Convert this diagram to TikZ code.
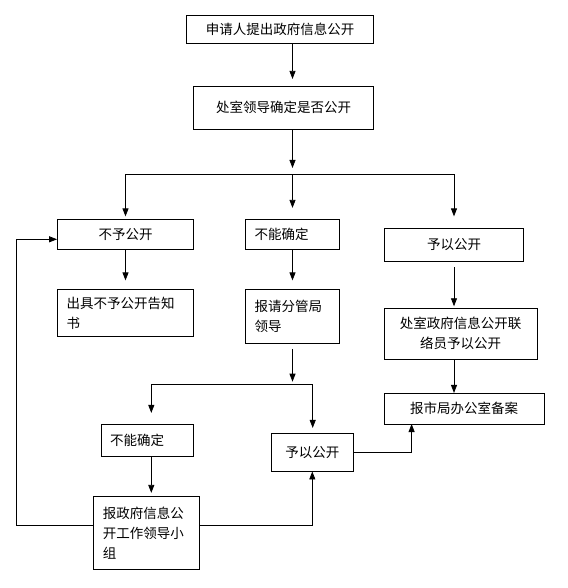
\documentclass[tikz,border=0pt]{standalone}
\usepackage{fontspec}
\setmainfont{Noto Sans CJK SC}
\usetikzlibrary{arrows.meta,positioning}

\begin{document}
\begin{tikzpicture}
[x=1pt, y=-1pt, font=\fontsize{13.5}{20}\selectfont,
>={Triangle[length=8pt,width=6pt]},
% STYLES
% The flowbox style is used to draw the steps of the procedure
flowbox/.style={rectangle, draw, line width=0.8pt, inner sep=0pt, align=center},
% The leftbox style is used for steps whose text starts at the left
leftbox/.style={flowbox, align=left, inner xsep=9pt},
% The link style is used to draw the connectors
link/.style={line width=0.8pt}]

\useasboundingbox (0,0) rectangle (567,588);

% Draw steps
\node [flowbox, minimum width=187pt, minimum height=28pt] (apply) at (280,29.3) {申请人提出政府信息公开};
\node [flowbox, minimum width=180pt, minimum height=42.7pt] (lead) at (283.5,107.7) {处室领导确定是否公开};
\node [flowbox, minimum width=136pt, minimum height=30pt] (refuse) at (125.5,234.3) {不予公开};
\node [leftbox, text width=76pt, minimum height=30pt] (unsure) at (292.5,234.3) {不能确定};
\node [flowbox, minimum width=139.6pt, minimum height=33pt] (grant) at (454,244.8) {予以公开};
\node [leftbox, text width=118pt, minimum height=46.3pt, below=39.7pt of refuse] (notice) {出具不予公开告知\\书};
\node [leftbox, text width=76pt, minimum height=53.7pt, below=39.7pt of unsure] (report) {报请分管局\\领导};
\node [flowbox, minimum width=153.5pt, minimum height=51pt] (liaison) at (460.7,333.8) {处室政府信息公开联\\络员予以公开};
\node [flowbox, minimum width=160.4pt, minimum height=30.7pt] (record) at (464.2,408.7) {报市局办公室备案};
\node [leftbox, text width=74.5pt, minimum height=31.7pt] (unsure2) at (147.3,440.2) {不能确定};
\node [flowbox, minimum width=82.5pt, minimum height=37.7pt] (grant2) at (312.3,452.2) {予以公开};
\node [leftbox, text width=87.5pt, minimum height=73pt] (group) at (146.5,532.8) {报政府信息公\\开工作领导小\\组};

% Points where the connectors split or turn
\coordinate (forkA) at (292.5,174);
\coordinate (forkL) at (151.3,384.3);
\coordinate (forkR) at (312.7,384.3);
\coordinate (loopy) at (0,525);
\coordinate (loopx) at (16.4,239.3);
\coordinate (recin) at (411.6,424);

% Draw the links between steps
\draw[link,->,shorten >=7pt] (apply.south -| unsure) -- (lead.north -| unsure);
\draw[link,->,shorten >=6pt] (lead.south -| unsure) -- (forkA);
\draw[link] (forkA -| refuse) -- (forkA -| grant);
\draw[link,->,shorten >=2.5pt] (forkA -| refuse) -- (refuse.north);
\draw[link,->,shorten >=11pt] (forkA) -- (unsure.north);
\draw[link,->,shorten >=11.5pt] (forkA -| grant) -- (grant.north);
\draw[link,->,shorten >=9pt] (refuse) -- (notice);
\draw[link,->,shorten >=9pt] (unsure) -- (report);
\draw[link,->,shorten <=5.4pt,shorten >=1.6pt] (grant.south) -- (grant.south |- liaison.north);
\draw[link,->] (liaison.south -| grant) -- (record.north -| grant);
\draw[link,->,shorten <=5pt,shorten >=2.6pt] (report) -- (report |- forkL);
\draw[link] (forkL) -- (forkR);
\draw[link,->,shorten >=11pt] (forkL) -- (forkL |- unsure2.north);
\draw[link,->,shorten >=5pt] (forkR) -- (forkR |- grant2.north);
\draw[link,->,shorten >=3pt] (unsure2.south -| forkL) -- (group.north -| forkL);
\draw[link,->] (group.east |- loopy) -| (grant2.south);
\draw[link,->] (group.west |- loopy) -| (loopx) -- (refuse.west |- loopx);
\draw[link,->] (grant2.east) -| (recin);

\end{tikzpicture}
\end{document}
